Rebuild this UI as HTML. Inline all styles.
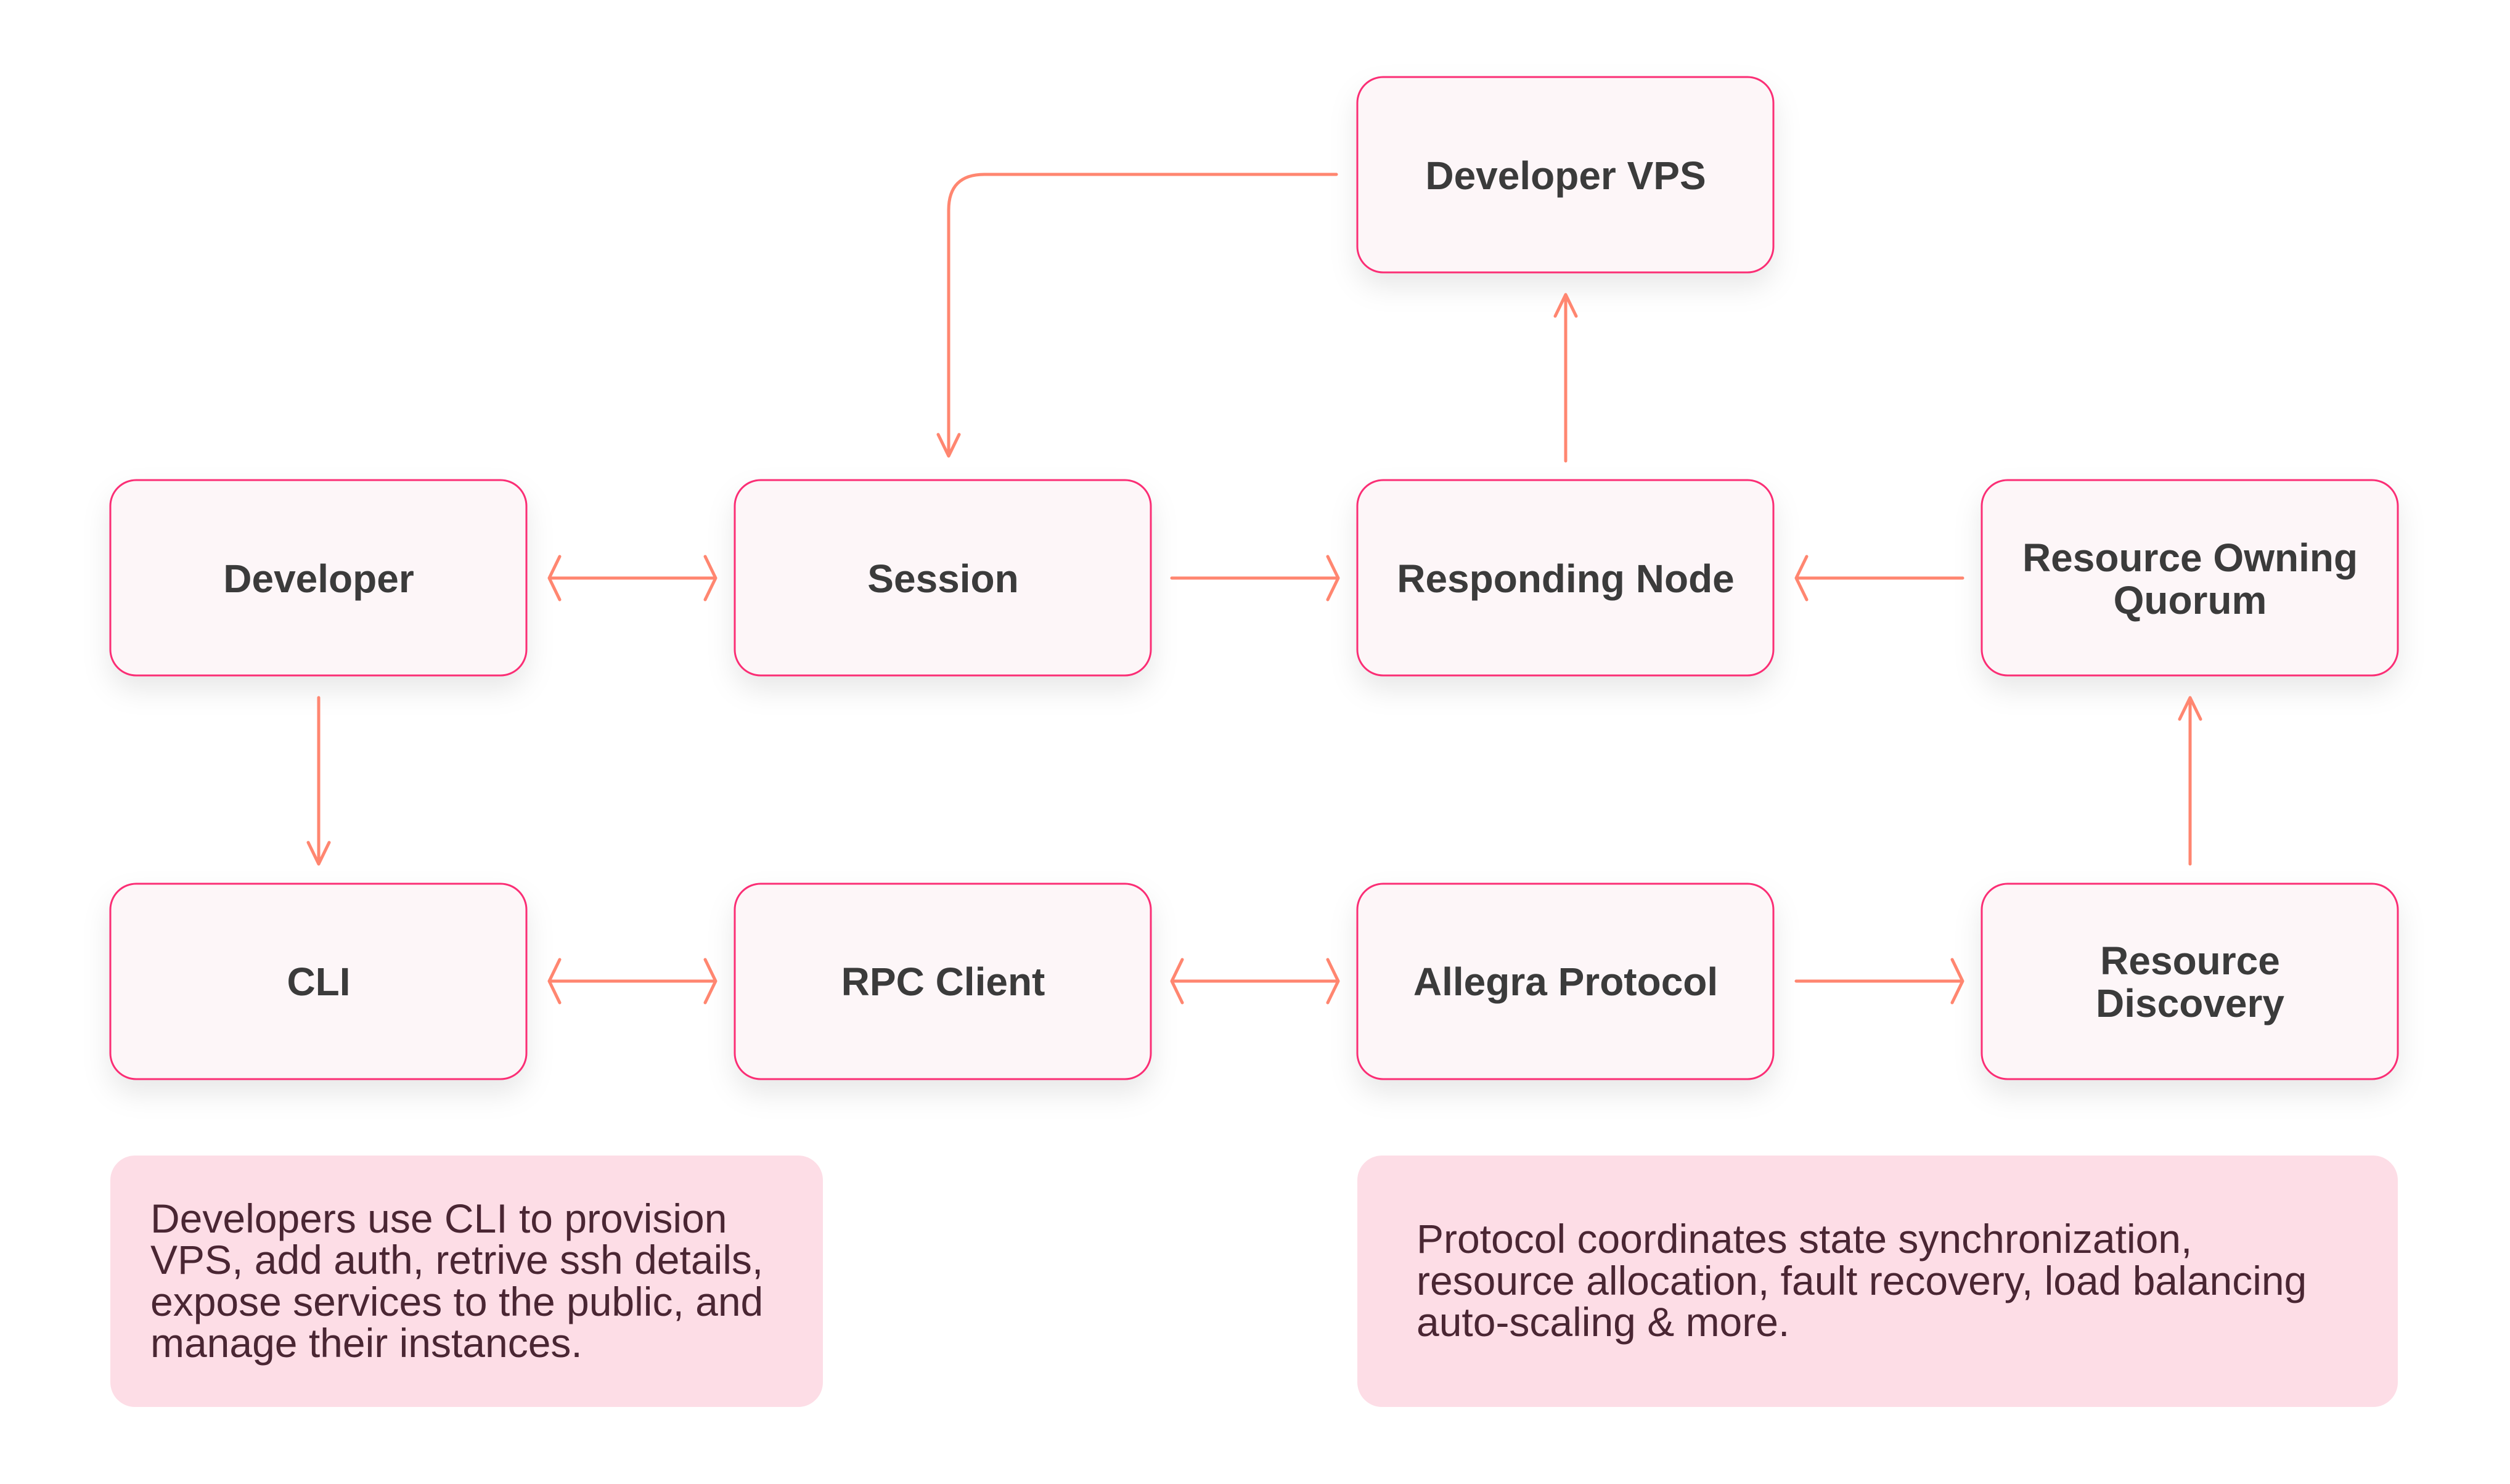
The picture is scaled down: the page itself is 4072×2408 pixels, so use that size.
<!DOCTYPE html>
<html><head><meta charset="utf-8"><style>
html,body{margin:0;padding:0;background:#fff}
svg{display:block}
.b{fill:#fdf6f8;stroke:#fb2d75;stroke-width:3}
.t{font-family:"Liberation Sans",sans-serif;font-weight:bold;font-size:64px;fill:#3b3b3b;text-anchor:middle}
.n{font-family:"Liberation Sans",sans-serif;font-size:66px;fill:#4a2633}
.a{stroke:#ff8670;stroke-width:5;fill:none;stroke-linecap:round;stroke-linejoin:round}
</style></head><body>
<svg width="4072" height="2408" viewBox="0 0 4072 2408" xmlns="http://www.w3.org/2000/svg">
<defs>
<filter id="sh" x="-20%" y="-20%" width="140%" height="160%"><feDropShadow dx="0" dy="22" stdDeviation="22" flood-color="#000" flood-opacity="0.09"/></filter>
</defs>
<g filter="url(#sh)">
<rect class="b" x="2202" y="125" width="675" height="317" rx="42"/>
<rect class="b" x="179" y="779" width="675" height="317" rx="42"/>
<rect class="b" x="1192" y="779" width="675" height="317" rx="42"/>
<rect class="b" x="2202" y="779" width="675" height="317" rx="42"/>
<rect class="b" x="3215" y="779" width="675" height="317" rx="42"/>
<rect class="b" x="179" y="1434" width="675" height="317" rx="42"/>
<rect class="b" x="1192" y="1434" width="675" height="317" rx="42"/>
<rect class="b" x="2202" y="1434" width="675" height="317" rx="42"/>
<rect class="b" x="3215" y="1434" width="675" height="317" rx="42"/>
</g>
<rect x="179" y="1875" width="1156" height="408" rx="40" fill="#fddde6"/>
<rect x="2202" y="1875" width="1688" height="408" rx="40" fill="#fddde6"/>

<text class="t" x="2540" y="307">Developer VPS</text>
<text class="t" x="517" y="961">Developer</text>
<text class="t" x="1530" y="961">Session</text>
<text class="t" x="2540" y="961">Responding Node</text>
<text class="t" x="3553" y="927">Resource Owning</text>
<text class="t" x="3553" y="996">Quorum</text>
<text class="t" x="517" y="1615">CLI</text>
<text class="t" x="1530" y="1615">RPC Client</text>
<text class="t" x="2540" y="1615">Allegra Protocol</text>
<text class="t" x="3553" y="1581">Resource</text>
<text class="t" x="3553" y="1650">Discovery</text>

<text class="n" x="244" y="2000">Developers use CLI to provision</text>
<text class="n" x="244" y="2067">VPS, add auth, retrive ssh details,</text>
<text class="n" x="244" y="2135">expose services to the public, and</text>
<text class="n" x="244" y="2202">manage their instances.</text>
<text class="n" x="2298" y="2033">Protocol coordinates state synchronization,</text>
<text class="n" x="2298" y="2101">resource allocation, fault recovery, load balancing</text>
<text class="n" x="2298" y="2168">auto-scaling &amp; more.</text>

<g class="a">
<path d="M891 938H1161 M908 903L891 938L908 973 M1144 903L1161 938L1144 973"/>
<path d="M1901 938H2171 M2154 903L2171 938L2154 973"/>
<path d="M3184 938H2914 M2931 903L2914 938L2931 973"/>
<path d="M2540 748V478 M2523 513L2540 478L2557 513"/>
<path d="M2168 283H1597Q1539 283 1539 341V740 M1522 705L1539 740L1556 705"/>
<path d="M517 1132V1402 M500 1367L517 1402L534 1367"/>
<path d="M891 1592H1161 M908 1557L891 1592L908 1627 M1144 1557L1161 1592L1144 1627"/>
<path d="M1901 1592H2171 M1918 1557L1901 1592L1918 1627 M2154 1557L2171 1592L2154 1627"/>
<path d="M2914 1592H3184 M3167 1557L3184 1592L3167 1627"/>
<path d="M3553 1402V1132 M3536 1167L3553 1132L3570 1167"/>
</g>
</svg>
</body></html>
